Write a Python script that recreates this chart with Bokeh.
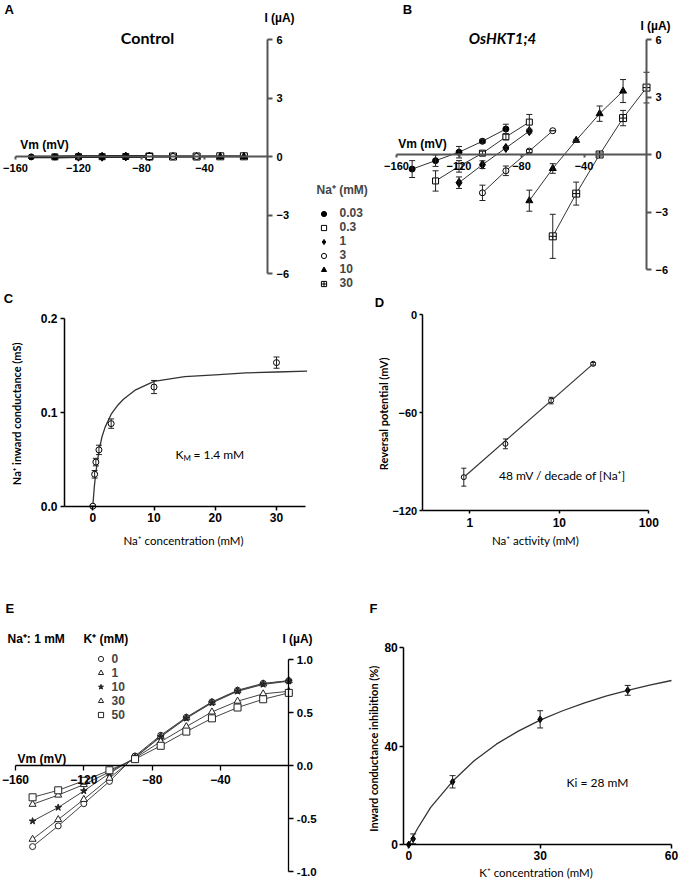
from bokeh.plotting import figure
from bokeh.models import (LinearAxis, LogAxis, FixedTicker, Range1d, Label, Legend, LegendItem,
                          Whisker, TeeHead, ColumnDataSource, NumeralTickFormatter, BasicTickFormatter)
from bokeh.layouts import row, column
from bokeh.embed import file_html
from bokeh.resources import INLINE

# ---------------- data ----------------
na_labels = ["0.03", "0.3", "1", "3", "10", "30"]

# A: control oocytes, I-V curves (mV, µA)
ctrl_v_003 = [-150, -135, -120, -105, -90]
ctrl_i_003 = [-0.02, -0.02, -0.01, -0.01, 0.0]
ctrl_v_03 = [-135, -120, -105, -90, -75]
ctrl_i_03 = [-0.02, -0.01, -0.01, 0.0, 0.0]
ctrl_v_1 = [-120, -105, -90, -75]
ctrl_i_1 = [-0.01, -0.01, 0.0, 0.0]
ctrl_v_3 = [-105, -90, -75, -60, -45]
ctrl_i_3 = [-0.01, 0.0, 0.0, 0.0, 0.0]
ctrl_v_10 = [-75, -60, -45, -30, -15]
ctrl_i_10 = [0.0, 0.0, 0.0, 0.0, 0.0]
ctrl_v_30 = [-75, -60, -45, -30, -15]
ctrl_i_30 = [0.0, 0.0, 0.0, 0.01, 0.01]

# B: OsHKT1;4 oocytes, I-V curves (mV, µA) with SE
hkt_v_003 = [-150, -135, -120, -105, -90]
hkt_i_003 = [-0.76, -0.32, 0.12, 0.69, 1.33]
hkt_e_003 = [0.44, 0.30, 0.30, 0.10, 0.25]
hkt_v_03 = [-135, -120, -105, -90, -75]
hkt_i_03 = [-1.38, -0.62, 0.07, 0.92, 1.69]
hkt_e_03 = [0.53, 0.30, 0.10, 0.15, 0.40]
hkt_v_1 = [-120, -105, -90, -75]
hkt_i_1 = [-1.47, -0.53, 0.34, 1.22]
hkt_e_1 = [0.30, 0.20, 0.08, 0.10]
hkt_v_3 = [-105, -90, -75, -60]
hkt_i_3 = [-2.00, -0.85, 0.18, 1.24]
hkt_e_3 = [0.40, 0.25, 0.08, 0.0]
hkt_v_10 = [-75, -60, -45, -30, -15]
hkt_i_10 = [-2.41, -0.73, 0.74, 2.13, 3.31]
hkt_e_10 = [0.55, 0.25, 0.05, 0.40, 0.60]
hkt_v_30 = [-60, -45, -30, -15, 0]
hkt_i_30 = [-4.27, -2.04, 0.00, 1.90, 3.49]
hkt_e_30 = [1.15, 0.60, 0.08, 0.40, 0.80]

# C: Na+ inward conductance vs Na+ concentration
c_conc = [0, 0.3, 0.5, 1, 3, 10, 30]
c_g = [0.0, 0.034, 0.047, 0.060, 0.088, 0.127, 0.153]
c_err = [0.0, 0.004, 0.004, 0.005, 0.005, 0.007, 0.006]
c_fit_x = [0, 0.25, 0.5, 1, 1.5, 2, 3, 4, 5, 7, 10, 15, 20, 25, 30, 35]
c_fit_y = [0, 0.021, 0.036, 0.059, 0.074, 0.084, 0.098, 0.107, 0.114, 0.124, 0.133, 0.138, 0.140, 0.142, 0.143, 0.144]

# D: reversal potential vs Na+ activity
d_act = [0.857, 2.5, 8.1, 23.9]
d_erev = [-99.6, -79.2, -52.7, -30.2]
d_err = [5.5, 3.0, 2.0, 0.8]
d_fit_x = [0.857, 23.9]
d_fit_y = [-99.6, -30.2]

# E: I-V curves at 1 mM Na+ with various K+
e_v = [-150, -135, -120, -105, -90, -75, -60, -45, -30, -15, 0]
k_labels = ["0", "1", "10", "30", "50"]
e_i_k0 = [-0.765, -0.57, -0.36, -0.15, 0.09, 0.285, 0.455, 0.60, 0.71, 0.775, 0.80]
e_i_k1 = [-0.696, -0.51, -0.32, -0.12, 0.08, 0.275, 0.45, 0.595, 0.705, 0.77, 0.80]
e_i_k10 = [-0.525, -0.396, -0.24, -0.075, 0.075, 0.27, 0.445, 0.59, 0.70, 0.765, 0.795]
e_i_k30 = [-0.366, -0.279, -0.18, -0.06, 0.07, 0.225, 0.367, 0.505, 0.607, 0.676, 0.70]
e_i_k50 = [-0.30, -0.234, -0.144, -0.045, 0.06, 0.186, 0.32, 0.445, 0.547, 0.625, 0.685]

# F: inhibition of inward conductance vs K+ concentration
f_k = [0, 1, 10, 30, 50]
f_inh = [0, 2.3, 25.5, 50.9, 62.7]
f_err = [0, 2.0, 2.5, 3.5, 2.0]
f_fit_x = [0, 2, 5, 10, 15, 20, 25, 30, 35, 40, 45, 50, 55, 60]
f_fit_y = [0, 6.5, 15.1, 25.7, 34.2, 40.8, 46.1, 50.6, 54.3, 57.5, 60.3, 62.7, 64.8, 66.7]

# ---------------- layout helpers ----------------
R1, R2, R3 = 290, 580, 880
WT = 679
TICKFONT = "Liberation Sans"
LABFONT = "Lato"


def lin(v, a):
    p1, d1, p2, d2 = a
    return d1 + (v - p1) * (d2 - d1) / (p2 - p1)


def panel(cell, xa, ya, xlog=False):
    cl, ct, cr, cb = cell
    x0, x1 = lin(cl, xa), lin(cr, xa)
    yt, yb = lin(ct, ya), lin(cb, ya)
    if xlog:
        x0, x1 = 10 ** x0, 10 ** x1
    p = figure(width=cr - cl, height=cb - ct, x_range=Range1d(x0, x1), y_range=Range1d(yb, yt),
               x_axis_type="log" if xlog else "linear", x_axis_location=None, y_axis_location=None,
               output_backend="svg", toolbar_location=None, tools="", min_border=0)
    p.grid.visible = False
    p.outline_line_color = None
    p.background_fill_color = "white"
    p.border_fill_color = "white"
    fx = (lambda X: 10 ** lin(X, xa)) if xlog else (lambda X: lin(X, xa))
    fy = lambda Y: lin(Y, ya)
    return p, fx, fy


def add_axis(p, side, fixed, bounds, ticks, size="11px", color="black", width=1.5, t_in=0, t_out=4,
             standoff=3, fmt=None, label=None, lab_size="11px", lab_style="bold", lab_standoff=5, log=False):
    cls = LogAxis if log else LinearAxis
    ax = cls(fixed_location=fixed, bounds=bounds, ticker=FixedTicker(ticks=ticks, minor_ticks=[]))
    ax.axis_line_color = color
    ax.axis_line_width = width
    ax.major_tick_line_color = color
    ax.major_tick_line_width = width
    ax.major_tick_in = t_in
    ax.major_tick_out = t_out
    ax.minor_tick_line_color = None
    ax.major_label_standoff = standoff
    ax.major_label_text_font = TICKFONT
    ax.major_label_text_font_style = "bold"
    ax.major_label_text_font_size = size
    ax.major_label_text_color = "black"
    if fmt:
        ax.formatter = NumeralTickFormatter(format=fmt)
    elif log:
        ax.formatter = BasicTickFormatter()
    if label:
        ax.axis_label = label
        ax.axis_label_text_font = LABFONT
        ax.axis_label_text_font_style = lab_style
        ax.axis_label_text_font_size = lab_size
        ax.axis_label_text_color = "black"
        ax.axis_label_standoff = lab_standoff
    p.add_layout(ax, side)
    return ax


def text(p, x, y, s, size="12px", font=TICKFONT, style="bold", align="left", baseline="middle"):
    p.add_layout(Label(x=x, y=y, text=s, text_font=font, text_font_style=style, text_font_size=size,
                       text_align=align, text_baseline=baseline, text_color="black"))


def errbars(p, x, y, e, color="#222222", head=6, lw=1):
    src = ColumnDataSource(dict(x=x, lo=[a - b for a, b in zip(y, e)], hi=[a + b for a, b in zip(y, e)]))
    p.add_layout(Whisker(source=src, base="x", lower="lo", upper="hi", dimension="height",
                         line_color=color, line_width=lw, level="glyph",
                         upper_head=TeeHead(size=head, line_color=color, line_width=lw),
                         lower_head=TeeHead(size=head, line_color=color, line_width=lw)))


def legend_kw(standoff):
    return dict(border_line_color=None, background_fill_alpha=0, padding=0, margin=0, spacing=0,
                glyph_width=13, glyph_height=13, label_height=13, label_standoff=standoff,
                label_text_font=TICKFONT, label_text_font_style="bold", label_text_font_size="12px")


# marker styles for the Na+ series: (marker, filled, size)
NA_STYLE = [("circle", True, 6), ("square", False, 6), ("diamond", True, 9),
            ("circle", False, 6), ("triangle", True, 7), ("square_cross", False, 7)]


def series_scatter(p, x, y, style, color="black"):
    m, filled, s = style
    return p.scatter(x, y, marker=m, size=s, line_color=color, line_width=1,
                     fill_color=color if filled else "white")


# ---------------- Panel A ----------------
pA, fx, fy = panel((0, 0, 372, R1), (15, -160, 267, 0), (156, 0, 39, 6))
add_axis(pA, "below", 0, (-160, 0), [-160, -120, -80, -40], size="11px", color="#555555", width=2,
         t_in=0, t_out=3, standoff=4)
add_axis(pA, "right", 0, (-6, 6), [-6, -3, 0, 3, 6], size="11px", color="#555555", width=2,
         t_out=5, standoff=4)
ctrl_v = [ctrl_v_003, ctrl_v_03, ctrl_v_1, ctrl_v_3, ctrl_v_10, ctrl_v_30]
ctrl_i = [ctrl_i_003, ctrl_i_03, ctrl_i_1, ctrl_i_3, ctrl_i_10, ctrl_i_30]
rendA = [None] * 6
for k in [5, 4, 3, 2, 1, 0]:
    pA.line(ctrl_v[k], ctrl_i[k], line_color="black", line_width=2.5 if k < 3 else 1.5)
for k in [5, 4, 3, 2, 1, 0]:
    rendA[k] = series_scatter(pA, ctrl_v[k], ctrl_i[k], NA_STYLE[k])
text(pA, fx(4), fy(9), "A", size="13px")
text(pA, fx(147), fy(37), "Control", size="16px", font=LABFONT, align="center")
text(pA, fx(279), fy(17), "I (µA)", size="12px", align="center")
text(pA, fx(44), fy(144), "Vm (mV)", size="12px", align="center")
legA = Legend(items=[LegendItem(label=na_labels[k], renderers=[rendA[k]]) for k in range(6)],
              location=(316.5, 0), title="Na⁺ (mM)",
              title_text_font=TICKFONT, title_text_font_style="bold", title_text_font_size="12px",
              title_standoff=8, **legend_kw(10))
pA.add_layout(legA)

# ---------------- Panel B ----------------
pB, fx, fy = panel((372, 0, WT, R1), (396, -160, 646, 0), (154, 0, 39, 6))
add_axis(pB, "below", 0, (-160, 0), [-160, -120, -80, -40], size="11px", color="#555555", width=2,
         t_in=0, t_out=3, standoff=4)
add_axis(pB, "right", 0, (-6, 6), [-6, -3, 0, 3, 6], size="11px", color="#555555", width=2,
         t_out=5, standoff=4)
hkt_v = [hkt_v_003, hkt_v_03, hkt_v_1, hkt_v_3, hkt_v_10, hkt_v_30]
hkt_i = [hkt_i_003, hkt_i_03, hkt_i_1, hkt_i_3, hkt_i_10, hkt_i_30]
hkt_e = [hkt_e_003, hkt_e_03, hkt_e_1, hkt_e_3, hkt_e_10, hkt_e_30]
for k in range(6):
    pB.line(hkt_v[k], hkt_i[k], line_color="#333333", line_width=1)
    errbars(pB, hkt_v[k], hkt_i[k], hkt_e[k])
    series_scatter(pB, hkt_v[k], hkt_i[k], NA_STYLE[k])
text(pB, fx(407), fy(9), "B", size="13px", align="center")
text(pB, fx(502), fy(37), "OsHKT1;4", size="15px", font=LABFONT, style="bold italic", align="center")
text(pB, fx(655), fy(25), "I (µA)", size="12px", align="center")
text(pB, fx(422), fy(143), "Vm (mV)", size="12px", align="center")

# ---------------- Panel C ----------------
pC, fx, fy = panel((0, R1, 345, R2), (92.3, 0, 276, 30), (505.7, 0, 318, 0.2))
xC0 = fx(64)
add_axis(pC, "left", xC0, (0, 0.2), [0, 0.1, 0.2], size="12px", fmt="0.0", t_out=4, standoff=3,
         label="Na⁺ inward conductance  (mS)", lab_size="11px", lab_standoff=15)
add_axis(pC, "below", 0, (xC0, fx(305)), [0, 10, 20, 30], size="12px", t_out=4, standoff=3,
         label="Na⁺ concentration  (mM)", lab_size="11.5px", lab_style="normal", lab_standoff=8)
pC.line(c_fit_x, c_fit_y, line_color="#333333", line_width=1.3)
errbars(pC, c_conc, c_g, c_err)
pC.scatter(c_conc, c_g, marker="circle", size=6, line_color="black", fill_color="white")
text(pC, fx(8), fy(298), "C", size="13px", align="center")
text(pC, fx(175), fy(454), "K", size="12px", font=LABFONT, style="normal")
text(pC, fx(183), fy(457), "M", size="8px", font=LABFONT, style="normal")
text(pC, fx(193), fy(454), "= 1.4 mM", size="12px", font=LABFONT, style="normal")

# ---------------- Panel D ----------------
pD, fx, fy = panel((345, R1, WT, R2), (469.3, 0, 648.3, 2), (314, 0, 510, -120), xlog=True)
xD0 = fx(421.7)
add_axis(pD, "left", xD0, (-120, 0), [-120, -60, 0], size="11px", t_out=3, standoff=2,
         label="Reversal potential  (mV)", lab_size="11px", lab_standoff=0)
add_axis(pD, "below", -120, (xD0, 100), [1, 10, 100], size="12px", t_out=3, standoff=4, log=True,
         label="Na⁺ activity (mM)", lab_size="11.5px", lab_style="normal", lab_standoff=4)
pD.line(d_fit_x, d_fit_y, line_color="#333333", line_width=1.2)
errbars(pD, d_act, d_erev, d_err, head=5)
pD.scatter(d_act, d_erev, marker="circle", size=5, line_color="black", fill_color="white")
text(pD, fx(379), fy(302), "D", size="13px", align="center")
text(pD, fx(562), fy(475), "48 mV / decade of [Na⁺]", size="12px", font=LABFONT, style="normal",
     align="center")

# ---------------- Panel E ----------------
pE, fx, fy = panel((0, R2, 355, R3), (15, -160, 288.3, 0), (765, 0, 659, 1.0))
add_axis(pE, "below", 0, (-160, 0), [-160, -120, -80, -40], size="12px", t_out=5, standoff=4, width=1.3)
add_axis(pE, "right", 0, (-1, 1), [-1, -0.5, 0, 0.5, 1], size="11.5px", fmt="0.0", t_out=5, standoff=3,
         width=1.3)
e_i = [e_i_k0, e_i_k1, e_i_k10, e_i_k30, e_i_k50]
K_STYLE = [("circle", False, 6), ("triangle", False, 7), ("star", True, 7),
           ("triangle", False, 7), ("square", False, 7)]
rendE = []
for k in range(5):
    pE.line(e_v, e_i[k], line_color="#444444", line_width=1)
for k in range(5):
    rendE.append(series_scatter(pE, e_v, e_i[k], K_STYLE[k], color="#222222"))
text(pE, fx(5), fy(608), "E", size="13px")
text(pE, fx(7), fy(638), "Na⁺: 1 mM", size="12px")
text(pE, fx(83), fy(638), "K⁺ (mM)", size="12px")
text(pE, fx(297), fy(638), "I (µA)", size="12px", align="center")
text(pE, fx(17), fy(758), "Vm (mV)", size="12px")
legE = Legend(items=[LegendItem(label=k_labels[k], renderers=[rendE[k]]) for k in range(5)],
              location=(93.5, R3 - 721.5), **legend_kw(5))
pE.add_layout(legE)

# ---------------- Panel F ----------------
pF, fx, fy = panel((355, R2, WT, R3), (408.3, 0, 671, 60), (844, 0, 647.3, 80))
xF0 = fx(403.3)
add_axis(pF, "left", xF0, (0, 80), [0, 40, 80], size="12px", t_out=4, standoff=2,
         label="Inward conductance  inhibition  (%)", lab_size="11px", lab_standoff=1)
add_axis(pF, "below", 0, (xF0, 60), [0, 30, 60], size="12px", t_out=4, standoff=2,
         label="K⁺ concentration  (mM)", lab_size="11.5px", lab_style="normal", lab_standoff=3)
pF.line(f_fit_x, f_fit_y, line_color="#333333", line_width=1.3)
errbars(pF, f_k, f_inh, f_err)
pF.scatter(f_k, f_inh, marker="diamond", size=7, line_color="black", fill_color="black")
text(pF, fx(373), fy(608), "F", size="13px", align="center")
text(pF, fx(597), fy(782), "Ki = 28 mM", size="12px", font=LABFONT, style="normal", align="center")

layout = column(row(pA, pB), row(pC, pD), row(pE, pF))
open("out.html", "w").write(file_html(layout, INLINE))
